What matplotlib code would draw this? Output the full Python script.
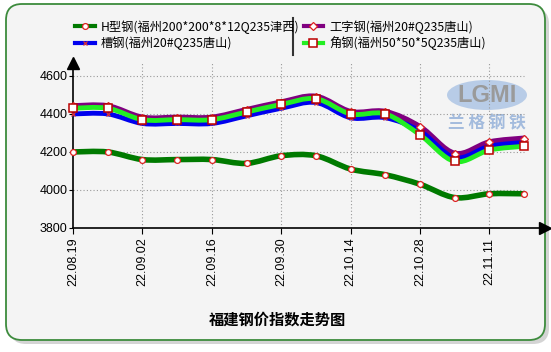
import matplotlib
matplotlib.use("Agg")
import matplotlib.pyplot as plt
from matplotlib.path import Path
from matplotlib.patches import PathPatch, FancyBboxPatch, Ellipse
from matplotlib.lines import Line2D

# data
dates = ["22.08.19", "22.08.26", "22.09.02", "22.09.09", "22.09.16", "22.09.23", "22.09.30",
         "22.10.07", "22.10.14", "22.10.21", "22.10.28", "22.11.04", "22.11.11", "22.11.18"]
h_beam = [4200, 4200, 4160, 4160, 4160, 4140, 4180, 4180, 4110, 4080, 4030, 3960, 3980, 3980]
i_beam = [4440, 4440, 4380, 4380, 4380, 4420, 4460, 4490, 4410, 4410, 4330, 4190, 4250, 4270]
channel = [4400, 4400, 4350, 4350, 4350, 4390, 4430, 4460, 4380, 4380, 4310, 4170, 4230, 4250]
angle = [4430, 4430, 4370, 4370, 4370, 4410, 4450, 4480, 4400, 4400, 4290, 4150, 4210, 4230]

names = ["H型钢(福州200*200*8*12Q235津西)", "工字钢(福州20#Q235唐山)",
         "槽钢(福州20#Q235唐山)", "角钢(福州50*50*5Q235唐山)"]
colors = ["#007a00", "#800080", "#0000ee", "#22ee22"]

cjk = ["Noto Sans CJK SC", "DejaVu Sans"]
plt.rcParams["font.family"] = ["Liberation Sans", "DejaVu Sans"]

fig = plt.figure(figsize=(5.51, 3.52), dpi=100)
W, H = 551, 352

# panel with shadow
shadow = FancyBboxPatch((10, 8), 539, 336, boxstyle="round,pad=0,rounding_size=16",
                        transform=None, fc="#b8b8b8", ec="none", alpha=0.6, zorder=0)
panel = FancyBboxPatch((6, 12), 539, 336, boxstyle="round,pad=0,rounding_size=16",
                       transform=None, fc="#f4f4f4", ec="#3d8b3d", lw=1.3, zorder=1)
fig.patches.extend([shadow, panel])

ax = fig.add_axes([73 / W, 124 / H, 472 / W, 165 / H])
ax.set_facecolor("none")
ax.set_zorder(3)

x = list(range(len(dates)))
ax.set_xlim(0, 13.6)
ax.set_ylim(3800, 4668)


def smooth(xs, ys):
    # Catmull-Rom spline drawn as cubic Bezier segments
    verts = [(xs[0], ys[0])]
    codes = [Path.MOVETO]
    n = len(xs)
    for i in range(n - 1):
        p0 = (xs[max(i - 1, 0)], ys[max(i - 1, 0)])
        p1 = (xs[i], ys[i])
        p2 = (xs[i + 1], ys[i + 1])
        p3 = (xs[min(i + 2, n - 1)], ys[min(i + 2, n - 1)])
        c1 = (p1[0] + (p2[0] - p0[0]) / 6, p1[1] + (p2[1] - p0[1]) / 6)
        c2 = (p2[0] - (p3[0] - p1[0]) / 6, p2[1] - (p3[1] - p1[1]) / 6)
        verts += [c1, c2, p2]
        codes += [Path.CURVE4] * 3
    return Path(verts, codes)


series = [h_beam, i_beam, channel, angle]
markers = [dict(marker="o", ms=4.2, mfc="white", mec="#dd2222", mew=0.9),
           dict(marker="D", ms=3.6, mfc="white", mec="#dd2222", mew=0.9),
           dict(marker="x", ms=3.2, mec="#dd3333", mew=0.9),
           dict(marker="s", ms=5.2, mfc="white", mec="#bb0000", mew=1.1)]
widths = [4.0, 4.5, 3.5, 3.5]
for i, ys in enumerate(series):
    ax.add_patch(PathPatch(smooth(x, ys), fill=False, ec=colors[i], lw=widths[i],
                           capstyle="round", joinstyle="round", zorder=3 + i))
for i, ys in enumerate(series):
    ax.plot(x, ys, ls="none", zorder=10 + i, clip_on=False, **markers[i])

# grid
for yv in [4000, 4200, 4400, 4600]:
    ax.plot([0, 13], [yv, yv], ls=(0, (1, 2)), color="#999999", lw=0.8, zorder=2)
for xv in range(2, 13, 2):
    ax.plot([xv, xv], [3800, 4668], ls=(0, (1, 2)), color="#999999", lw=0.8, zorder=2)

ax.spines["top"].set_visible(False)
ax.spines["right"].set_visible(False)
ax.spines["left"].set_linewidth(1.2)
ax.spines["bottom"].set_linewidth(1.2)
ax.plot(0, 1, marker="^", color="black", ms=8, transform=ax.transAxes, clip_on=False, zorder=20)
ax.plot(1, 0, marker=">", color="black", ms=8, transform=ax.transAxes, clip_on=False, zorder=20)

ax.set_yticks([3800, 4000, 4200, 4400, 4600])
ax.set_yticklabels(["3800", "4000", "4200", "4400", "4600"], fontsize=9)
ax.set_xticks(x[::2])
ax.set_xticklabels(dates[::2], rotation=90, fontsize=9)
ax.tick_params(axis="y", direction="out", length=3, pad=1)
ax.tick_params(axis="x", direction="out", length=4, pad=3)

# legend
handles = [Line2D([], [], color=colors[i], lw=3, **markers[i]) for i in range(4)]
order = [0, 2, 1, 3]
fig.legend([handles[i] for i in order], [names[i] for i in order], ncol=2,
           loc="upper left", bbox_to_anchor=(75 / W, 1 - 20 / H), frameon=False,
           prop={"family": cjk, "size": 8.8}, handlelength=1.6, handletextpad=0.5,
           columnspacing=0.35, labelspacing=0.22, borderaxespad=0, borderpad=0)
fig.add_artist(Line2D([293 / W, 293 / W], [1 - 18 / H, 1 - 55 / H], color="#333333", lw=1.5))

# watermark logo
fig.patches.append(Ellipse((487, 257), 80, 30, transform=None, fc="#aac3e4", ec="none",
                           alpha=0.8, zorder=2))
fig.text(487 / W, 257 / H, "LGMI", ha="center", va="center", fontsize=17, fontweight="bold",
         color="#9a9a9a", zorder=2)
fig.text(487 / W, 229 / H, "兰 格 钢 铁", ha="center", va="center", fontsize=12,
         fontweight="bold", color="#a3bbdd", family=cjk, zorder=2)

fig.text(277 / W, 1 - 320 / H, "福建钢价指数走势图", ha="center", va="center", fontsize=11,
         fontweight="bold", family=cjk)

fig.savefig("out.png", dpi=100)
